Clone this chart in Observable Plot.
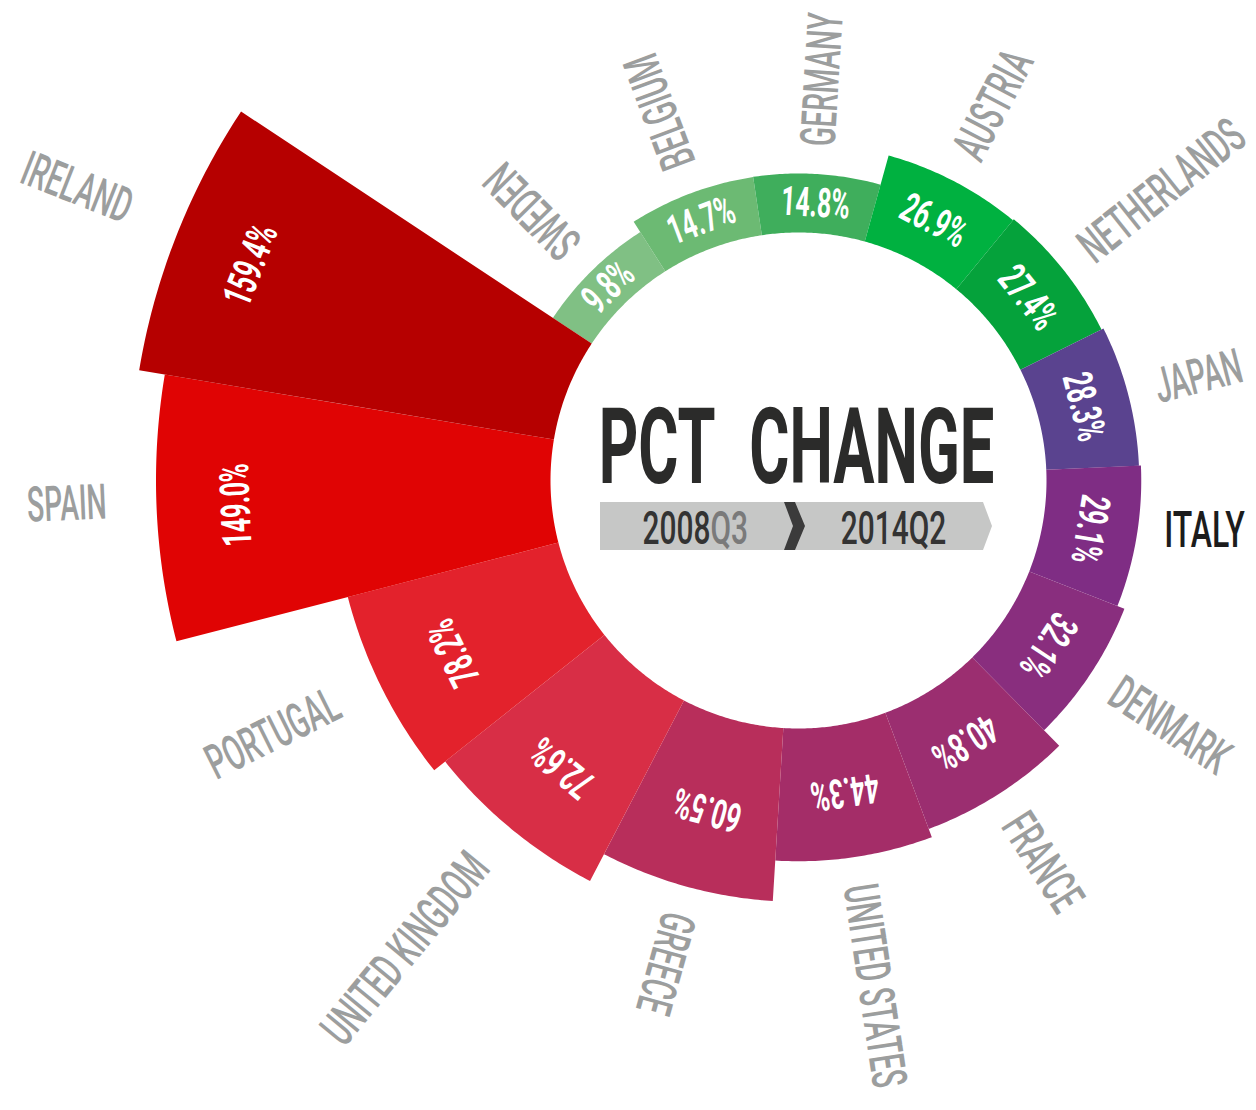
<!DOCTYPE html>
<html><head><meta charset="utf-8">
<script src="https://cdn.jsdelivr.net/npm/d3@7"></script>
<script src="https://cdn.jsdelivr.net/npm/@observablehq/plot@0.6"></script>
<style>html,body{margin:0;padding:0;background:#fff;}</style>
</head><body><div id="chart"></div>
<script>
// ---- data ----
const countries = ["SWEDEN","BELGIUM","GERMANY","AUSTRIA","NETHERLANDS","JAPAN","ITALY","DENMARK","FRANCE","UNITED STATES","GREECE","UNITED KINGDOM","PORTUGAL","SPAIN","IRELAND"];
const values = [9.8, 14.7, 14.8, 26.9, 27.4, 28.3, 29.1, 32.1, 40.8, 44.3, 60.5, 72.6, 78.2, 149.0, 159.4];
const palette = ["#80c084","#6cba73","#3fae5c","#00b140","#05a23b","#5a438f","#7f2d84","#892e7e","#9b2e70","#a42d68","#b82e5b","#d82e46","#e3222c","#e00404","#b60000"];
const highlight = "ITALY";
const title = "PCT CHANGE";
const periodFrom = ["2008", "Q3"];
const periodTo = "2014Q2";

// ---- layout ----
const W = 1256, H = 1110;
const cx = 798, cy = 480;            // centre of the ring
const pxPerDeg = 10;                 // projection: 1 degree of arc = 10px
const startAngle = -56.5;            // clockwise from 12 o'clock
const step = 360 / countries.length;
const innerR = 248;
const radius = d3.scaleLinear().domain([0, 160]).range([270, 670]);

const proj = d3.geoAzimuthalEquidistant()
  .rotate([0, -90])
  .scale(pxPerDeg * 180 / Math.PI)
  .translate([cx, cy]);
const lon = (a) => 180 - a;
const lat = (r) => 90 - r / pxPerDeg;

const rows = countries.map((name, i) => {
  const a0 = startAngle + i * step;
  return {name, value: values[i], a0, a1: a0 + step, am: a0 + step / 2, R: radius(values[i])};
});

function sector(d) {
  const ring = [], n = 48;
  for (let k = 0; k <= n; k++) ring.push([lon(d.a0 + (d.a1 - d.a0) * k / n), lat(d.R)]);
  for (let k = n; k >= 0; k--) ring.push([lon(d.a0 + (d.a1 - d.a0) * k / n), lat(innerR)]);
  ring.push(ring[0]);
  const f = {type: "Feature", properties: d, geometry: {type: "Polygon", coordinates: [ring]}};
  if (d3.geoArea(f) > 2 * Math.PI) f.geometry.coordinates = [ring.slice().reverse()];
  return f;
}
const valueR = (d) => d.R - Math.min((d.R - innerR) / 2, 80);
const flipped = (d) => d.am > 200 && d.am < 300;

function banner() {
  const [x0, y0] = proj([0, 90]);
  const g = d3.create("svg:g");
  const pts = (arr) => arr.map(([x, y]) => `${x0 + x},${y0 + y}`).join(" ");
  g.append("polygon").attr("points", pts([[-198, 22], [185, 22], [194, 46], [185, 70], [-198, 70]])).attr("fill", "#c6c7c6");
  g.append("polygon").attr("points", pts([[-14, 22], [-3, 22], [7, 46], [-3, 70], [-14, 70], [-5, 46]])).attr("fill", "#3b3b3b");
  return g.node();
}

const labelFont = "Roboto, 'Liberation Sans', sans-serif";
// font sizes double as keys for the horizontal condensing below
const FS_LABEL = 49, FS_HIGH = 50, FS_VALUE = 41, FS_TITLE = 105, FS_PERIOD = 46;

const plot = Plot.plot({
  width: W, height: H, margin: 0,
  projection: proj,
  color: {domain: countries, range: palette},
  style: {background: "#fff", fontFamily: labelFont},
  marks: [
    Plot.geo(rows.map(sector), {fill: (f) => f.properties.name}),
    Plot.text(rows, {
      x: (d) => lon(d.am), y: (d) => lat(valueR(d)),
      text: (d) => d.value.toFixed(1) + "%",
      rotate: (d) => d.am, fill: "white", fontSize: FS_VALUE, fontWeight: "bold"
    }),
    Plot.text(rows.filter((d) => !flipped(d) && d.name !== highlight), {
      x: (d) => lon(d.am), y: (d) => lat(d.R + 28), text: "name",
      rotate: (d) => d.am - 90, textAnchor: "start", fill: "#9c9e9e", fontSize: FS_LABEL, fontWeight: 500
    }),
    Plot.text(rows.filter((d) => d.name === highlight), {
      x: (d) => lon(d.am), y: (d) => lat(d.R + 28), dy: -11, text: "name",
      textAnchor: "start", fill: "#1c1c1c", fontSize: FS_HIGH, fontWeight: 500
    }),
    Plot.text(rows.filter(flipped), {
      x: (d) => lon(d.am), y: (d) => lat(d.R + 50), dy: -8, text: "name",
      rotate: (d) => d.am - 270, textAnchor: "end", fill: "#9c9e9e", fontSize: FS_LABEL, fontWeight: 500
    }),
    Plot.text([title], {x: 0, y: 90, dx: -2, dy: -31.6, fontSize: FS_TITLE, fontWeight: "bold", fill: "#2b2b2a"}),
    banner,
    Plot.text([periodFrom[0]], {x: 0, y: 90, dx: -88, dy: 48.6, textAnchor: "end", fontSize: FS_PERIOD, fontWeight: 500, fill: "#333333"}),
    Plot.text([periodFrom[1]], {x: 0, y: 90, dx: -88, dy: 48.6, textAnchor: "start", fontSize: FS_PERIOD, fontWeight: 500, fill: "#7a7a7a"}),
    Plot.text([periodTo], {x: 0, y: 90, dx: 95, dy: 48.6, fontSize: FS_PERIOD, fontWeight: 500, fill: "#333333"})
  ]
});

document.getElementById("chart").append(plot);

const squeeze = {[FS_LABEL]: 0.575, [FS_HIGH]: 0.64, [FS_VALUE]: 0.61, [FS_TITLE]: 0.585, [FS_PERIOD]: 0.65};
plot.querySelectorAll("text").forEach((t) => {
  const fs = Math.round(parseFloat(getComputedStyle(t).fontSize));
  const s = squeeze[fs];
  if (s) t.setAttribute("transform", (t.getAttribute("transform") || "") + ` scale(${s},1)`);
  if (fs === FS_TITLE) t.style.wordSpacing = "34px";
});
</script>
</body></html>
